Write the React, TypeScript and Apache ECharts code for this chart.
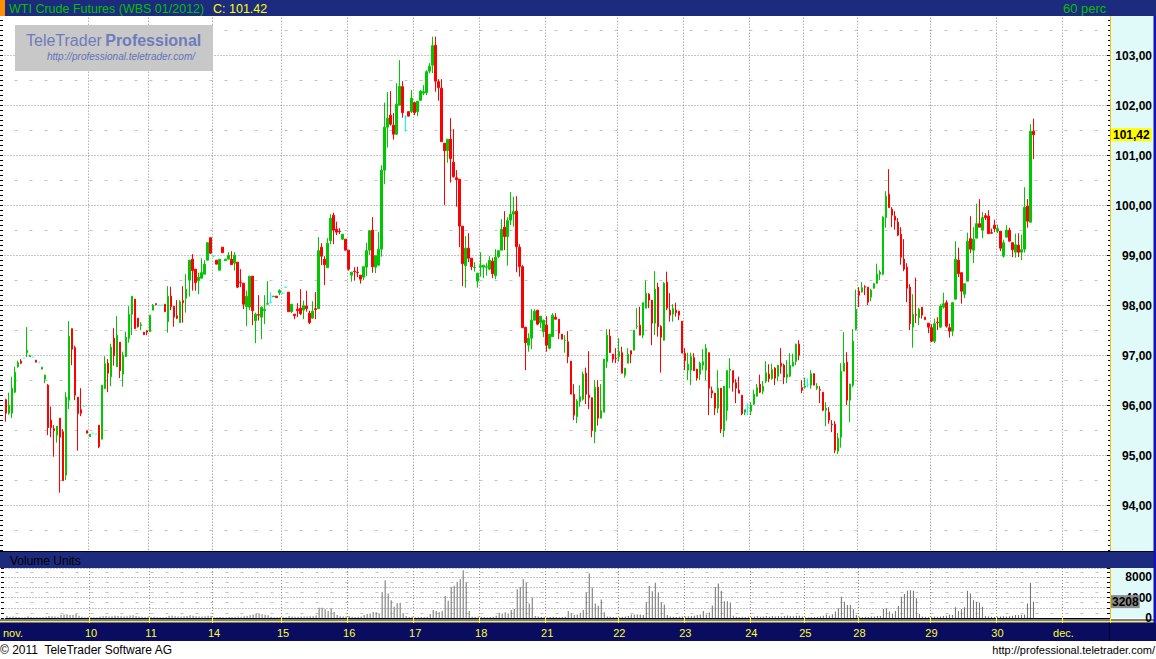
import React, { useEffect, useRef } from "react";
import * as echarts from "echarts";

// ---- hourly OHLC (60 perc), WTI Crude Futures (WBS 01/2012) ----
const opens = [
  96.12, 95.85, 95.85, 96.27, 96.78, 96.89, 96.95, 97.06, 96.98, 96.97,
  96.91, 96.87, 96.73, 96.53, 96.41, 95.71, 95.54, 95.41, 95.75, 95.48,
  94.61, 96.11, 97.54, 97.16, 96.17, 95.92, 95.99, 95.5, 95.38, 95.45,
  95.43, 95.61, 95.33, 96.34, 96.85, 96.58, 97.35, 96.78, 97.27, 96.63,
  96.98, 97.34, 97.83, 98.13, 97.75, 97.6, 97.47, 97.5, 97.48, 97.91,
  98.04, 98.01, 98.01, 98.03, 97.68, 98.19, 97.99, 97.8, 97.66, 98.1,
  98.15, 98.51, 98.93, 98.73, 98.5, 98.55, 98.63, 98.91, 99.36, 98.99,
  98.91, 98.71, 99.17, 98.9, 98.93, 98.93, 98.85, 98.87, 98.47, 98.45,
  97.98, 97.97, 98.59, 97.7, 97.82, 97.77, 97.9, 98.03, 98.06, 98.18,
  98.19, 98.26, 98.25, 98.37, 98.27, 97.88, 97.83, 97.93, 97.95, 97.91,
  97.99, 97.85, 97.75, 97.94, 97.94, 99.17, 98.93, 98.76, 99.3, 99.81,
  99.53, 99.49, 99.33, 99.33, 99.11, 98.61, 98.69, 98.67, 98.61, 98.57,
  98.77, 99.11, 99.51, 98.77, 98.81, 99.13, 100.71, 101.57, 101.81, 101.61,
  101.43, 102.01, 102.38, 101.77, 101.88, 101.88, 102.06, 101.88, 102.11, 102.25,
  102.26, 102.69, 102.81, 103.21, 102.48, 102.35, 101.25, 101.1, 101.33, 100.87,
  100.56, 100.53, 99.59, 98.8, 99.15, 98.95, 98.76, 98.49, 98.77, 98.77,
  98.77, 98.73, 98.89, 98.6, 98.98, 99.11, 99.57, 99.38, 99.71, 99.83,
  99.89, 99.17, 98.78, 97.57, 97.21, 97.35, 97.71, 97.91, 97.66, 97.48,
  97.61, 97.15, 97.38, 97.77, 97.73, 97.43, 97.3, 97.28, 96.89, 96.23,
  95.78, 96.08, 96.13, 96.65, 96.21, 96.16, 95.48, 96.37, 95.75, 95.87,
  96.88, 97.39, 97.03, 96.95, 96.98, 97.06, 96.61, 96.85, 97.1, 97.11,
  97.58, 97.61, 97.41, 97.95, 98.23, 98.11, 97.65, 98.37, 97.58, 97.31,
  98.47, 97.91, 97.83, 97.91, 97.89, 97.69, 97.05, 96.71, 96.71, 96.96,
  96.73, 96.63, 96.81, 96.71, 97.06, 96.3, 96.25, 95.95, 96.35, 95.5,
  95.9, 96.71, 96.7, 96.46, 96.31, 96.21, 95.87, 95.96, 95.89, 96.03,
  96.19, 96.43, 96.29, 96.49, 96.63, 96.54, 96.75, 96.59, 96.85, 96.81,
  96.57, 96.59, 96.79, 96.89, 97.23, 96.36, 96.37, 96.43, 96.41, 96.64,
  96.35, 96.32, 96.27, 95.91, 95.87, 95.63, 95.63, 95.09, 95.37, 96.69,
  96.87, 96.11, 96.41, 97.53, 98.29, 98.27, 98.38, 98.37, 98.17, 98.35,
  98.45, 98.63, 98.63, 99.76, 100.23, 99.93, 99.79, 99.67, 99.43, 98.93,
  98.77, 98.37, 97.57, 97.82, 97.76, 97.97, 97.77, 97.65, 97.56, 97.29,
  97.67, 97.57, 97.97, 98.06, 97.56, 97.49, 98.13, 98.91, 98.66, 98.23,
  98.49, 99.34, 99.11, 99.35, 99.64, 99.51, 99.8, 99.79, 99.46, 99.61,
  99.49, 99.49, 98.99, 99.37, 99.51, 99.26, 99.07, 99.21, 99.07, 99.13,
  99.99, 99.67, 101.49,
];
const highs = [
  96.14, 96.26, 96.58, 96.78, 96.9, 96.93, 96.95, 97.57, 97.02, 96.97,
  96.91, 96.87, 96.77, 96.62, 96.43, 95.98, 95.61, 95.59, 95.75, 95.53,
  96.27, 97.69, 97.54, 97.2, 96.17, 96.35, 95.99, 95.5, 95.43, 95.45,
  95.43, 95.61, 96.41, 96.99, 96.93, 97.24, 97.55, 97.79, 97.27, 97.08,
  97.48, 97.99, 98.19, 98.13, 97.75, 97.67, 97.47, 97.51, 97.81, 98.03,
  98.05, 98.01, 98.01, 98.03, 98.39, 98.38, 97.99, 98.11, 98.11, 98.39,
  98.63, 98.91, 99.03, 98.73, 98.66, 98.95, 98.91, 99.26, 99.36, 98.99,
  98.91, 98.93, 99.17, 98.93, 99.07, 99.09, 99.07, 98.87, 98.73, 98.45,
  98.3, 98.59, 98.59, 97.86, 98.21, 97.98, 98.21, 98.49, 98.27, 98.19,
  98.19, 98.33, 98.25, 98.37, 98.27, 98.03, 97.83, 98.05, 98.33, 98.1,
  98.3, 97.9, 98.09, 98.27, 99.37, 99.25, 98.99, 99.35, 99.83, 99.86,
  99.68, 99.55, 99.43, 99.33, 99.11, 98.67, 98.77, 98.78, 98.61, 98.78,
  99.26, 99.5, 99.77, 99.0, 99.47, 100.81, 102.06, 102.27, 102.29, 101.85,
  102.45, 102.91, 102.49, 101.81, 101.88, 102.31, 102.08, 102.09, 102.31, 102.41,
  102.71, 102.85, 103.38, 103.38, 102.53, 102.53, 101.25, 101.33, 101.75, 101.53,
  100.71, 100.53, 99.59, 99.39, 99.45, 98.95, 98.87, 98.65, 99.07, 98.81,
  98.85, 98.99, 98.96, 99.13, 99.1, 99.73, 99.89, 99.77, 100.27, 100.18,
  100.19, 99.23, 98.81, 97.57, 97.45, 97.93, 97.93, 97.91, 97.79, 97.72,
  97.79, 97.43, 97.85, 97.85, 97.73, 97.43, 97.41, 97.49, 96.89, 96.43,
  96.13, 96.41, 96.68, 96.76, 97.09, 96.16, 96.51, 96.51, 96.43, 96.93,
  97.53, 97.53, 97.03, 97.15, 97.35, 97.18, 96.75, 97.15, 97.1, 97.51,
  97.95, 97.98, 98.06, 98.5, 98.25, 98.11, 98.69, 98.46, 97.61, 98.47,
  98.68, 98.25, 98.03, 98.06, 97.89, 97.69, 97.15, 97.06, 97.06, 97.05,
  96.73, 96.88, 97.13, 97.23, 97.06, 96.38, 96.25, 96.71, 96.35, 96.39,
  96.71, 96.95, 96.7, 96.53, 96.58, 96.21, 95.92, 96.05, 96.07, 96.32,
  96.43, 96.62, 96.49, 96.89, 96.83, 96.84, 96.77, 96.81, 97.15, 96.84,
  96.91, 97.05, 97.04, 97.24, 97.31, 96.51, 96.56, 96.54, 96.71, 96.64,
  96.45, 96.39, 96.27, 96.07, 95.97, 95.71, 95.69, 95.45, 96.85, 97.47,
  97.07, 96.44, 97.53, 98.32, 98.37, 98.47, 98.41, 98.37, 98.34, 98.45,
  98.84, 98.71, 99.79, 100.29, 100.73, 99.97, 99.89, 99.75, 99.57, 99.33,
  98.85, 98.43, 98.23, 98.56, 97.96, 97.97, 97.77, 97.65, 97.63, 97.74,
  97.77, 98.03, 98.26, 98.11, 97.64, 98.07, 99.29, 99.16, 98.66, 98.44,
  99.46, 99.79, 99.57, 100.04, 100.13, 99.87, 99.85, 99.91, 99.54, 99.72,
  99.62, 99.49, 99.32, 99.61, 99.56, 99.27, 99.44, 99.45, 99.42, 100.37,
  100.13, 101.63, 101.74,
];
const lows = [
  95.68, 95.82, 95.75, 96.25, 96.76, 96.83, 96.95, 96.97, 96.98, 96.97,
  96.87, 96.87, 96.73, 96.45, 95.41, 95.37, 94.98, 95.26, 94.26, 94.5,
  94.51, 95.93, 96.81, 96.11, 95.1, 95.79, 95.99, 95.45, 95.38, 95.45,
  95.43, 95.15, 95.33, 96.34, 96.27, 96.39, 96.8, 96.78, 96.55, 96.38,
  96.98, 97.26, 97.41, 97.54, 97.56, 97.51, 97.42, 97.41, 97.48, 97.91,
  98.01, 98.01, 98.01, 97.88, 97.46, 97.91, 97.58, 97.73, 97.66, 97.66,
  97.86, 98.18, 98.3, 98.3, 98.23, 98.55, 98.63, 98.91, 99.03, 98.99,
  98.83, 98.7, 99.06, 98.9, 98.93, 98.82, 98.7, 98.35, 98.37, 97.93,
  97.59, 97.91, 97.61, 97.25, 97.7, 97.33, 97.63, 98.03, 98.06, 98.18,
  98.16, 98.21, 98.25, 98.37, 97.88, 97.85, 97.73, 97.77, 97.81, 97.73,
  97.88, 97.63, 97.75, 97.73, 97.94, 98.81, 98.41, 98.76, 99.23, 99.23,
  99.41, 99.43, 99.31, 99.1, 98.7, 98.48, 98.5, 98.57, 98.44, 98.51,
  98.59, 99.01, 98.66, 98.65, 98.81, 98.98, 100.43, 101.16, 101.6, 101.32,
  101.41, 102.01, 101.76, 101.48, 101.79, 101.85, 101.81, 101.79, 102.09, 102.21,
  102.21, 102.65, 102.65, 102.28, 102.1, 101.28, 100.01, 100.86, 100.46, 100.56,
  99.98, 99.17, 98.39, 98.36, 98.87, 98.71, 98.68, 98.36, 98.58, 98.55,
  98.6, 98.71, 98.55, 98.53, 98.95, 99.11, 99.11, 98.8, 99.61, 99.58,
  98.67, 98.58, 97.56, 96.71, 97.08, 97.13, 97.7, 97.61, 97.55, 97.37,
  97.08, 97.13, 97.38, 97.73, 97.33, 97.33, 97.06, 96.85, 96.23, 95.71,
  95.65, 95.98, 96.1, 96.03, 95.93, 95.37, 95.25, 95.6, 95.75, 95.87,
  96.75, 97.06, 96.86, 96.85, 96.88, 96.65, 96.56, 96.85, 96.85, 97.11,
  97.53, 97.41, 97.35, 97.95, 97.95, 97.21, 97.41, 97.38, 96.66, 97.3,
  97.91, 97.68, 97.68, 97.78, 97.71, 97.05, 96.71, 96.51, 96.41, 96.7,
  96.5, 96.51, 96.71, 96.51, 95.81, 96.15, 95.81, 95.85, 95.45, 95.37,
  95.7, 96.35, 96.28, 96.05, 96.25, 95.81, 95.81, 95.81, 95.81, 96.01,
  96.19, 96.25, 96.23, 96.45, 96.47, 96.52, 96.41, 96.49, 96.64, 96.43,
  96.45, 96.57, 96.79, 96.81, 96.91, 96.25, 96.34, 96.37, 96.34, 96.41,
  96.31, 96.05, 95.89, 95.59, 95.64, 95.47, 95.05, 95.03, 95.16, 96.69,
  96.01, 95.67, 96.37, 97.51, 97.97, 98.27, 98.21, 98.01, 98.09, 98.34,
  98.44, 98.51, 98.61, 99.56, 99.96, 99.57, 99.52, 99.39, 98.82, 98.69,
  98.07, 97.51, 97.16, 97.65, 97.61, 97.74, 97.72, 97.45, 97.27, 97.25,
  97.51, 97.56, 97.94, 97.56, 97.36, 97.39, 98.13, 98.57, 98.04, 98.15,
  98.49, 99.05, 98.85, 99.35, 99.57, 99.35, 99.71, 99.44, 99.44, 99.47,
  99.45, 99.09, 98.96, 99.37, 99.29, 98.97, 98.96, 98.97, 98.91, 99.06,
  99.56, 99.67, 100.93,
];
const closes = [
  95.85, 96.01, 96.35, 96.67, 96.86, 96.85, 96.95, 97.11, 97.0, 96.97,
  96.87, 96.87, 96.77, 96.61, 95.56, 95.56, 95.5, 95.59, 95.37, 94.5,
  96.17, 97.39, 97.13, 96.21, 95.84, 95.85, 95.99, 95.45, 95.43, 95.45,
  95.43, 95.18, 96.41, 96.84, 96.65, 97.17, 97.0, 97.41, 96.7, 97.01,
  97.37, 97.83, 98.19, 97.54, 97.58, 97.62, 97.42, 97.47, 97.81, 98.01,
  98.02, 98.01, 98.01, 97.88, 98.19, 97.98, 97.77, 97.75, 98.08, 98.06,
  98.33, 98.91, 98.7, 98.46, 98.57, 98.66, 98.83, 99.26, 99.05, 98.99,
  98.83, 98.93, 99.06, 98.93, 99.01, 98.82, 99.01, 98.37, 98.46, 98.03,
  98.19, 98.59, 97.9, 97.83, 97.81, 97.97, 97.93, 98.04, 98.06, 98.19,
  98.16, 98.3, 98.25, 98.37, 97.88, 98.03, 97.8, 97.9, 97.84, 98.0,
  97.94, 97.66, 97.89, 97.92, 99.1, 98.99, 98.82, 99.25, 99.75, 99.51,
  99.47, 99.48, 99.43, 99.11, 98.73, 98.67, 98.68, 98.66, 98.53, 98.78,
  99.1, 99.5, 98.78, 99.0, 99.13, 100.71, 101.57, 101.75, 101.63, 101.43,
  102.03, 102.39, 101.86, 101.77, 101.79, 102.15, 101.86, 102.09, 102.29, 102.28,
  102.68, 102.79, 103.2, 102.49, 102.36, 101.28, 101.1, 101.33, 100.94, 100.58,
  100.52, 99.59, 98.84, 99.15, 98.95, 98.78, 98.77, 98.65, 98.8, 98.81,
  98.78, 98.91, 98.64, 98.97, 99.1, 99.53, 99.38, 99.7, 99.83, 99.88,
  99.18, 98.78, 97.56, 97.26, 97.35, 97.71, 97.89, 97.63, 97.79, 97.71,
  97.21, 97.43, 97.81, 97.73, 97.45, 97.33, 97.31, 96.98, 96.23, 95.81,
  96.09, 96.18, 96.63, 96.23, 96.16, 95.5, 96.37, 95.75, 95.9, 96.93,
  97.41, 97.06, 96.93, 96.94, 97.08, 96.65, 96.75, 97.03, 97.03, 97.51,
  97.59, 97.41, 98.06, 98.25, 98.11, 97.65, 98.33, 97.58, 97.37, 98.45,
  97.95, 97.81, 97.94, 97.86, 97.81, 97.05, 96.9, 96.83, 96.98, 96.7,
  96.55, 96.85, 96.88, 97.15, 96.35, 96.25, 95.95, 96.35, 95.53, 96.39,
  96.7, 96.73, 96.46, 96.35, 96.25, 95.84, 95.92, 95.96, 96.01, 96.23,
  96.36, 96.27, 96.39, 96.66, 96.54, 96.72, 96.55, 96.81, 96.79, 96.57,
  96.63, 96.81, 96.87, 97.23, 97.01, 96.31, 96.39, 96.43, 96.64, 96.41,
  96.39, 96.31, 95.91, 95.95, 95.71, 95.62, 95.11, 95.35, 96.69, 96.85,
  96.11, 96.43, 97.29, 97.93, 98.21, 98.36, 98.37, 98.07, 98.31, 98.44,
  98.63, 98.67, 99.77, 100.19, 99.96, 99.81, 99.71, 99.41, 98.97, 98.73,
  98.35, 97.64, 97.83, 97.81, 97.93, 97.81, 97.72, 97.57, 97.29, 97.64,
  97.66, 97.99, 98.04, 97.59, 97.49, 98.06, 98.93, 98.64, 98.29, 98.44,
  99.29, 99.13, 99.33, 99.64, 99.57, 99.76, 99.76, 99.44, 99.45, 99.54,
  99.54, 99.15, 99.26, 99.51, 99.29, 99.12, 99.22, 99.07, 99.12, 99.97,
  99.69, 101.49, 101.42,
];
const volumes = [
  400, 250, 300, 250, 200, 150, 150, 350, 200, 150, 200, 150, 200, 250, 400, 350, 300, 250,
  650, 700, 750, 600, 600, 800, 450,
  250, 150, 200, 150, 150, 150, 300, 350, 400,
  300, 350, 450, 400, 350, 300, 350, 500, 550, 400, 300, 250, 200, 250,
  200, 250, 150, 150, 150, 200, 450, 450, 350, 300, 300, 350,
  400, 550, 450, 350, 300, 300, 350, 450, 400,
  150, 150, 200, 150, 150, 200, 200, 250, 300, 250, 350,
  400, 550, 700, 800, 900, 750, 650, 550,
  250, 150, 150, 200, 150, 150, 400, 300, 250, 250, 300, 300, 300, 350, 350, 500,
  2000, 2000, 1700, 1350, 1900, 1200, 600,
  350, 300, 300, 400, 250, 200, 250, 300,
  600, 800, 900, 1200, 1150, 900,
  5100, 7400, 4800, 3500, 2200, 2900, 3000,
  1000, 400, 200, 250, 150, 150, 200, 200,
  250, 800, 1550, 1350, 1150, 1350, 4300, 3400, 6100, 6300, 7100, 7600, 9350, 6950,
  1350, 250, 200, 250, 250, 200, 150, 200, 250,
  450, 1050, 900, 1150, 900, 1550, 1750, 5650, 6100, 7600, 6900, 2850, 4000, 400,
  300, 250, 200, 150, 200, 250, 200, 150, 200, 250,
  1350, 900, 600, 700, 1050, 1550, 5000, 8700, 6000, 2850, 2400, 3650, 1150,
  300, 250, 200, 200, 150, 250, 300, 400, 700, 700, 700, 700, 600,
  3050, 6250, 5250, 6900, 5050, 3050, 2650, 600,
  300, 250, 200, 250, 300, 300, 350, 400, 450, 600, 700, 1350, 700, 1100, 2450,
  6100, 6750, 5350, 3300, 3300, 3050, 450, 250,
  200, 250, 200, 250, 200, 300, 400, 250, 300, 400, 250, 400, 300, 400, 300, 400, 500, 400, 350, 450, 450, 300,
  150, 150, 200, 200, 250, 350, 450, 700, 450, 750, 1250, 1900, 4150, 3200, 2550, 2550, 1700, 600,
  250, 200, 250, 200, 300, 300, 400, 400, 1800, 1900, 1250, 900, 1350, 2350,
  4150, 4700, 5350, 5450, 5350, 3850, 800, 300, 250, 200,
  250, 300, 250, 300, 400, 450, 700, 600,
  2100, 1350, 1700, 2100, 5350, 4800, 3500, 3200, 3000, 2200, 400,
  300, 250, 200, 250, 300, 350, 300, 350, 450, 600, 600, 650,
  700, 2850, 6900, 3208,
];

// day separators: index of the first hourly bar of each trading day
const dayLabels = ["nov.", "10", "11", "14", "15", "16", "17", "18", "21", "22", "23", "24", "25", "28", "29", "30", "dec."];
const dayStarts = [0, 28, 48, 69, 92, 114, 136, 158, 180, 204, 226, 248, 266, 284, 308, 330, 352];
const monthLabelSlot = 2;
const totalSlots = 368;

const priceMin = 93;
const priceMax = 104;
const volumeMax = 9800;
const volumeLabels = [0, 4000, 8000];

const FONT = "'Liberation Sans', Arial, sans-serif";

export default function App() {
  const ref = useRef<HTMLDivElement>(null);

  useEffect(() => {
    if (!ref.current) return;
    const chart = echarts.init(ref.current, null, { renderer: "svg" });

    const n = closes.length;
    const cats = Array.from({ length: totalSlots }, (_, c) => String(c));
    const candleData = Array.from({ length: n }, (_, i) => [opens[i], closes[i], lows[i], highs[i]]);
    const volData = volumes.slice(0, n);
    const lastClose = closes[n - 1];
    const lastVolume = volData[volData.length - 1];

    const labelAt = new Map<number, string>();
    dayLabels.forEach((d, k) => labelAt.set(k === 0 ? monthLabelSlot : dayStarts[k], d));
    const splitAt = new Set(dayStarts.slice(1));
    const isSplit = (idx: number) => splitAt.has(idx);
    const isLabel = (idx: number) => labelAt.has(idx);

    const dotted = { color: "#8c8c8c", width: 1, type: [1, 2] };
    const dashed = { color: "#c2c2c2", width: 1, type: [3, 12], dashOffset: 4.5 };
    const cyanBg = "#e0fafa";
    const bandBlue = "#1c2b7e";

    const fmtPrice = (v: number) => v.toFixed(2).replace(".", ",");

    const option: any = {
      animation: false,
      backgroundColor: "#ffffff",
      textStyle: { fontFamily: FONT },
      grid: [
        { left: 4.5, right: 46, top: 5.67, height: 550 },
        { left: 4.5, right: 46, top: 568, height: 50 },
      ],
      xAxis: [
        {
          type: "category",
          gridIndex: 0,
          data: cats,
          boundaryGap: true,
          axisLine: { show: false },
          axisTick: { show: false },
          axisLabel: { show: false },
          splitLine: { show: true, interval: isSplit, lineStyle: dotted },
        },
        {
          type: "category",
          gridIndex: 1,
          data: cats,
          boundaryGap: true,
          axisLine: { show: true, lineStyle: { color: "#000000" } },
          axisTick: { show: true, interval: isSplit, length: 5, lineStyle: { color: "#ffff00" } },
          axisLabel: {
            show: true,
            interval: isLabel,
            formatter: (_v: string, idx: number) => labelAt.get(idx) ?? "",
            color: "#ffff30",
            fontSize: 11,
            fontFamily: FONT,
            margin: 9,
          },
          splitLine: { show: true, interval: isSplit, lineStyle: dotted },
        },
      ],
      yAxis: [
        {
          type: "value",
          gridIndex: 0,
          position: "right",
          min: priceMin,
          max: priceMax,
          interval: 1,
          axisLine: { show: true, lineStyle: { color: "#f2c200" } },
          axisTick: { show: true, inside: true, length: 3, lineStyle: { color: "#000" } },
          minorTick: { show: true, splitNumber: 10, length: 2, lineStyle: { color: "#000" } },
          axisLabel: {
            show: true,
            margin: 42,
            align: "right",
            color: "#000",
            fontSize: 12,
            fontWeight: "bold",
            fontFamily: FONT,
            showMinLabel: false,
            showMaxLabel: false,
            formatter: fmtPrice,
          },
          splitLine: { show: true, lineStyle: dotted },
        },
        {
          type: "value",
          gridIndex: 0,
          position: "left",
          offset: 4.5,
          min: priceMin,
          max: priceMax,
          interval: 1,
          axisLine: { show: false },
          axisTick: { show: true, inside: true, length: 3, lineStyle: { color: "#000" } },
          minorTick: { show: true, splitNumber: 10, length: 3, lineStyle: { color: "#000" } },
          axisLabel: { show: false },
          splitLine: { show: false },
        },
        {
          type: "value",
          gridIndex: 0,
          position: "left",
          min: priceMin,
          max: priceMax,
          interval: 1,
          axisLine: { show: false },
          axisTick: { show: false },
          axisLabel: { show: false },
          splitLine: { show: false },
          minorTick: { show: false, splitNumber: 2 },
          minorSplitLine: { show: true, lineStyle: dashed },
        },
        {
          type: "value",
          gridIndex: 1,
          position: "right",
          min: 0,
          max: volumeMax,
          interval: 2000,
          axisLine: { show: true, lineStyle: { color: "#f2c200" } },
          axisTick: { show: true, inside: true, length: 3, lineStyle: { color: "#000" } },
          minorTick: { show: true, splitNumber: 2, length: 3, lineStyle: { color: "#000" } },
          axisLabel: {
            show: true,
            margin: 42,
            align: "right",
            color: "#000",
            fontSize: 12,
            fontWeight: "bold",
            fontFamily: FONT,
            formatter: (v: number) => (volumeLabels.includes(v) ? String(v) : ""),
          },
          splitLine: { show: true, lineStyle: dotted },
          minorSplitLine: { show: true, lineStyle: dashed },
        },
        {
          type: "value",
          gridIndex: 1,
          position: "left",
          offset: 4.5,
          min: 0,
          max: volumeMax,
          interval: 2000,
          axisLine: { show: false },
          axisTick: { show: true, inside: true, length: 3, lineStyle: { color: "#000" } },
          minorTick: { show: true, splitNumber: 2, length: 3, lineStyle: { color: "#000" } },
          axisLabel: { show: false },
          splitLine: { show: false },
        },
      ],
      series: [
        {
          type: "candlestick",
          xAxisIndex: 0,
          yAxisIndex: 0,
          data: candleData,
          barWidth: 2,
          itemStyle: {
            color: "#00c800",
            color0: "#ff0000",
            borderColor: "#00c800",
            borderColor0: "#ff0000",
            borderColorDoji: "#00ffff",
            borderWidth: 1,
          },
          markLine: {
            silent: true,
            symbol: ["none", "none"],
            lineStyle: { color: "rgba(0,0,0,0)", width: 1 },
            label: {
              show: true,
              position: "end",
              distance: 1,
              formatter: () => fmtPrice(lastClose),
              backgroundColor: "#ffff00",
              color: "#000",
              fontSize: 12,
              fontWeight: "bold",
              fontFamily: FONT,
              padding: [1, 2, 0, 2],
            },
            data: [{ yAxis: lastClose }],
          },
        },
        {
          type: "bar",
          xAxisIndex: 1,
          yAxisIndex: 3,
          data: volData,
          barWidth: 1,
          itemStyle: { color: "#6e6e6e" },
          markLine: {
            silent: true,
            symbol: ["none", "none"],
            lineStyle: { color: "rgba(0,0,0,0)", width: 1 },
            label: {
              show: true,
              position: "end",
              distance: 1,
              formatter: () => String(lastVolume),
              backgroundColor: "#8c8c8c",
              color: "#000",
              fontSize: 12,
              fontWeight: "bold",
              fontFamily: FONT,
              padding: [1, 1, 0, 1],
            },
            data: [{ yAxis: lastVolume }],
          },
        },
      ],
      graphic: [
        // right axis panels
        { type: "rect", z: -1, shape: { x: 1110, y: 16, width: 44, height: 535 }, style: { fill: cyanBg } },
        { type: "rect", z: -1, shape: { x: 1110, y: 568, width: 44, height: 50 }, style: { fill: cyanBg } },
        // bottom date bar
        { type: "rect", z: -1, shape: { x: 0, y: 619.5, width: 1156, height: 1 }, style: { fill: "#000" } },
        { type: "rect", z: -1, shape: { x: 0, y: 621.5, width: 1156, height: 1 }, style: { fill: "#e8d000" } },
        { type: "rect", z: -1, shape: { x: 0, y: 622.5, width: 1156, height: 18.5 }, style: { fill: "#0a0c60" } },
        { type: "rect", z: -1, shape: { x: 1109, y: 622.5, width: 1, height: 18.5 }, style: { fill: "#000030" } },
        // header
        { type: "rect", z: 100, shape: { x: 0, y: 0, width: 1156, height: 16 }, style: { fill: bandBlue } },
        { type: "rect", z: 101, shape: { x: 0, y: 0, width: 5, height: 16 }, style: { fill: "#ff9000" } },
        {
          type: "text", z: 101, x: 9, y: 8.5,
          style: { text: "WTI Crude Futures (WBS 01/2012)", fill: "#00c000", fontSize: 12.5, fontFamily: FONT, verticalAlign: "middle" },
        },
        {
          type: "text", z: 101, x: 213, y: 8.5,
          style: { text: "C: " + lastClose.toFixed(2), fill: "#ffff00", fontSize: 12.5, fontFamily: FONT, verticalAlign: "middle" },
        },
        {
          type: "text", z: 101, x: 1063, y: 8.5,
          style: { text: "60 perc", fill: "#00c000", fontSize: 13, fontFamily: FONT, verticalAlign: "middle" },
        },
        // volume band
        { type: "rect", z: 100, shape: { x: 0, y: 551, width: 1156, height: 17 }, style: { fill: bandBlue } },
        { type: "rect", z: 100, shape: { x: 0, y: 551, width: 1156, height: 1 }, style: { fill: "#000018" } },
        {
          type: "text", z: 101, x: 10, y: 560.5,
          style: { text: "Volume Units", fill: "#000", fontSize: 12, fontFamily: FONT, verticalAlign: "middle" },
        },
        // right border
        { type: "rect", z: 100, shape: { x: 1153.5, y: 16, width: 2.5, height: 607 }, style: { fill: "#1414b4" } },
        // logo
        { type: "rect", z: 50, shape: { x: 15, y: 25, width: 198, height: 46 }, style: { fill: "#c8c8c8" } },
        {
          type: "text", z: 51, x: 26, y: 40,
          style: {
            text: "{a|TeleTrader} {b|Professional}",
            verticalAlign: "middle",
            rich: {
              a: { fontSize: 16, fontFamily: FONT, fill: "#6d7cbc" },
              b: { fontSize: 16, fontFamily: FONT, fontWeight: "bold", fill: "#6d7cbc" },
            },
          },
        },
        {
          type: "text", z: 51, x: 47, y: 56.5,
          style: { text: "http://professional.teletrader.com/", fill: "#6372b8", fontSize: 10, fontStyle: "italic", fontFamily: FONT, verticalAlign: "middle" },
        },
        // footer
        {
          type: "text", z: 100, x: 0, y: 650,
          style: { text: "© 2011  TeleTrader Software AG", fill: "#000", fontSize: 12, fontFamily: FONT, verticalAlign: "middle" },
        },
        {
          type: "text", z: 100, x: 1155, y: 650,
          style: { text: "http://professional.teletrader.com/", fill: "#000", fontSize: 11, fontFamily: FONT, align: "right", verticalAlign: "middle" },
        },
      ],
    };

    chart.setOption(option);
    return () => chart.dispose();
  }, []);

  return <div ref={ref} style={{ position: "fixed", left: 0, top: 0, width: 1156, height: 659 }} />;
}
